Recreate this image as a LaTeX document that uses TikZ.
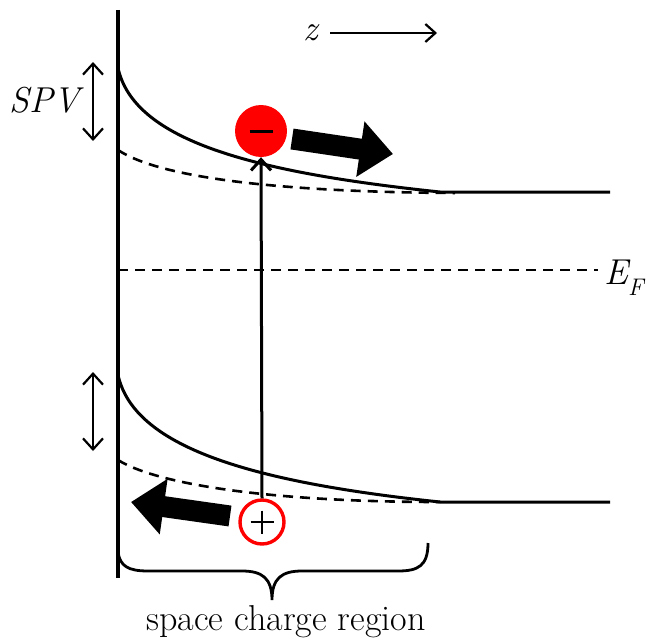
\documentclass[tikz,border=0pt]{standalone}
\usepackage{fontspec}
\usepackage{tikz}
\usetikzlibrary{arrows.meta, calc}

\begin{document}
\begin{tikzpicture}[x=1pt, y=-1pt,
    band/.style={line width=3pt},
    dashband/.style={line width=2.6pt, dash pattern=on 10pt off 7pt},
    dbl/.style={line width=2.2pt, {Straight Barb[length=11pt,width=20pt]}-{Straight Barb[length=11pt,width=20pt]}},
    push/.style={line width=21pt, -{Triangle[length=33pt,width=54pt]}},
    lbl/.style={font=\fontsize{36}{43}\selectfont, inner sep=0pt}]
    \useasboundingbox (0,0) rectangle (647,642);

    % surface axis
    \draw[line width=3.4pt] (118,10) -- (118,578);

    % conduction band (lit and dark)
    \draw[band] (118,68) .. controls (134,140) and (250,172) .. (440,192) -- (610,192);
    \draw[dashband] (118,150) .. controls (160,178) and (280,192) .. (455,193);

    % Fermi level
    \draw[dashband] (118,270) -- (598,270);
    \node[lbl, anchor=west] (ef) at (604,278) {\itshape E\raisebox{-0.3em}{\fontsize{24}{28}\selectfont F}};

    % valence band (lit and dark)
    \draw[band] (118,375) .. controls (134,447) and (250,482) .. (440,502) -- (610,502);
    \draw[dashband] (118,460) .. controls (160,486) and (280,502) .. (440,502);

    % band bending shifts
    \draw[dbl] (93,62) -- (93,141);
    \draw[dbl] (93,372) -- (93,451);
    \node[lbl, anchor=east] (spv) at (80,100) {\itshape SPV};

    % carriers
    \node[circle, fill=red, minimum size=52pt, inner sep=0pt] (elec) at (261,131) {};
    \draw[line width=3pt] ($(elec.center)+(-11.5,0)$) -- ($(elec.center)+(11.5,0)$);
    \node[circle, draw=red, line width=3.4pt, fill=white, minimum size=44pt, inner sep=0pt] (hole) at (262,522) {};
    \draw[line width=2.6pt] ($(hole.center)+(-11.5,0)$) -- ($(hole.center)+(11.5,0)$)
        ($(hole.center)+(0,-11.5)$) -- ($(hole.center)+(0,11.5)$);

    % excitation
    \draw[line width=3pt, -{Straight Barb[length=11pt,width=20pt]}] (hole.north) -- (elec.south);

    % separation of charges
    \draw[push] (292,139) -- (393,154);
    \draw[push] (230,516) -- (131,502);

    % direction into bulk
    \node[lbl] (z) at (311,33) {\itshape z};
    \draw[line width=2.2pt, -{Straight Barb[length=10pt,width=18pt]}] (z.east) ++(12,0) -- (437,33);

    % space charge region brace
    \draw[line width=2.8pt] (118,552) .. controls (120,566) and (128,571) .. (148,571)
        -- (242,571) .. controls (262,571) and (272,578) .. (272,600)
        .. controls (272,578) and (282,571) .. (302,571) -- (398,571)
        .. controls (418,571) and (428,566) .. (428,543);
    \node[lbl] (scr) at (286,622) {space charge region};
\end{tikzpicture}
\end{document}
